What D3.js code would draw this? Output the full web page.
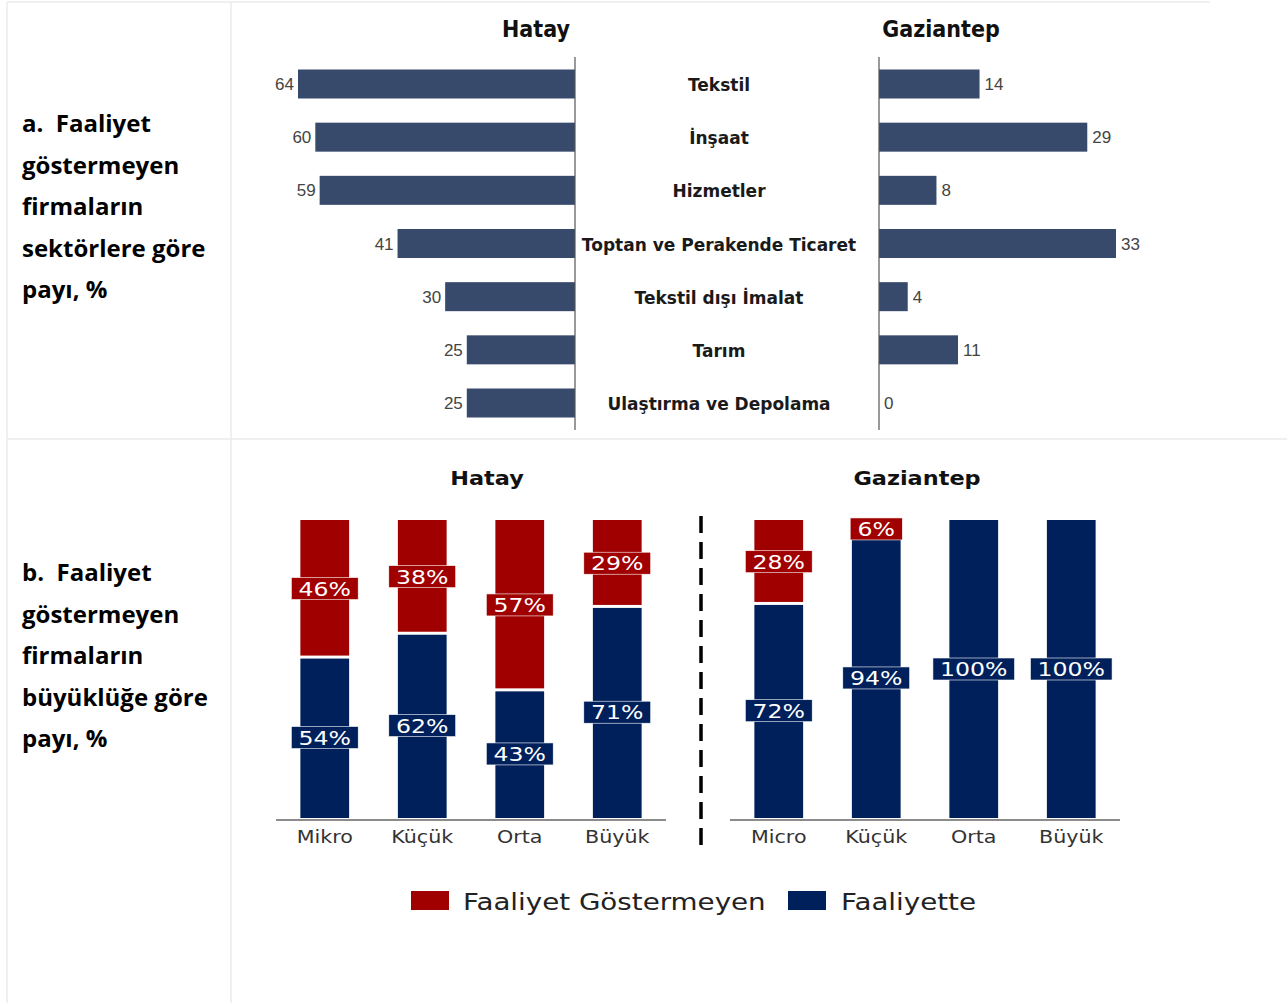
<!DOCTYPE html>
<html>
<head>
<meta charset="utf-8">
<script src="https://cdn.jsdelivr.net/npm/d3@7"></script>
<style>
  html, body { margin: 0; padding: 0; background: #fff; }
  svg { display: block; }
  text { font-variant-ligatures: none; }
</style>
</head>
<body>
<svg id="chart" width="1287" height="1003"></svg>
<script>
// ── data ──
const SECTORS = ["Tekstil", "İnşaat", "Hizmetler", "Toptan ve Perakende Ticaret",
                 "Tekstil dışı İmalat", "Tarım", "Ulaştırma ve Depolama"];
const HATAY_SECTOR = [64, 60, 59, 41, 30, 25, 25];
const GAZI_SECTOR = [14, 29, 8, 33, 4, 11, 0];

const SIZES_HATAY = ["Mikro", "Küçük", "Orta", "Büyük"];
const SIZES_GAZI = ["Micro", "Küçük", "Orta", "Büyük"];
const HATAY_INACTIVE = [46, 38, 57, 29];
const HATAY_ACTIVE = [54, 62, 43, 71];
const GAZI_INACTIVE = [28, 6, 0, 0];
const GAZI_ACTIVE = [72, 94, 100, 100];

const LEGEND = ["Faaliyet Göstermeyen", "Faaliyette"];
const ROW_LABELS = [
  ["a.  Faaliyet", "göstermeyen", "firmaların", "sektörlere göre", "payı, %"],
  ["b.  Faaliyet", "göstermeyen", "firmaların", "büyüklüğe göre", "payı, %"]
];

const BAR_TOP = "#374a6b";
const RED = "#a00000";
const NAVY = "#00205c";
const GRID = "#ebebeb";

const svg = d3.select("#chart");

// ── table frame ──
const frame = svg.append("g").attr("stroke", GRID).attr("stroke-width", 1.5);
frame.append("line").attr("x1", 7).attr("x2", 1210).attr("y1", 2).attr("y2", 2);
frame.append("line").attr("x1", 7).attr("x2", 1287).attr("y1", 439).attr("y2", 439);
frame.append("line").attr("x1", 7).attr("x2", 7).attr("y1", 2).attr("y2", 1003);
frame.append("line").attr("x1", 231).attr("x2", 231).attr("y1", 2).attr("y2", 1003);

// ── row captions ──
ROW_LABELS.forEach((lines, r) => {
  svg.append("g").selectAll("text")
    .data(lines).join("text")
    .attr("x", 22)
    .attr("y", (d, i) => (r === 0 ? 132 : 581) + i * 41.5)
    .attr("font-family", "'Open Sans', Lato, sans-serif")
    .attr("font-weight", 700)
    .attr("font-size", 24)
    .attr("fill", "#000")
    .style("white-space", "pre")
    .text(d => d);
});

// ── part a: mirrored sector bars ──
const yS = d3.scalePoint().domain(SECTORS).range([84, 403]);
const xH = d3.scaleLinear().domain([0, 64]).range([575, 298]);
const xG = d3.scaleLinear().domain([0, 33]).range([879, 1116]);
const barH = 29;
const topFont = "'DejaVu Sans', Verdana, sans-serif";

const ga = svg.append("g");
ga.selectAll("rect.h").data(SECTORS).join("rect")
  .attr("x", (d, i) => xH(HATAY_SECTOR[i]))
  .attr("y", d => yS(d) - barH / 2)
  .attr("width", (d, i) => xH(0) - xH(HATAY_SECTOR[i]))
  .attr("height", barH)
  .attr("fill", BAR_TOP);
ga.selectAll("rect.g").data(SECTORS).join("rect")
  .attr("x", xG(0))
  .attr("y", d => yS(d) - barH / 2)
  .attr("width", (d, i) => xG(GAZI_SECTOR[i]) - xG(0))
  .attr("height", barH)
  .attr("fill", BAR_TOP);

[xH(0), xG(0)].forEach(x => {
  ga.append("line").attr("x1", x).attr("x2", x).attr("y1", 57).attr("y2", 430)
    .attr("stroke", "#555").attr("stroke-width", 1.2);
});

ga.selectAll("text.vh").data(SECTORS).join("text")
  .attr("x", (d, i) => xH(HATAY_SECTOR[i]) - 4)
  .attr("y", d => yS(d) + 6)
  .attr("text-anchor", "end")
  .attr("font-family", "'Liberation Sans', Arial, sans-serif")
  .attr("font-size", 17)
  .attr("fill", "#444")
  .text((d, i) => HATAY_SECTOR[i]);
ga.selectAll("text.vg").data(SECTORS).join("text")
  .attr("x", (d, i) => xG(GAZI_SECTOR[i]) + 5)
  .attr("y", d => yS(d) + 6)
  .attr("font-family", "'Liberation Sans', Arial, sans-serif")
  .attr("font-size", 17)
  .attr("fill", "#444")
  .text((d, i) => GAZI_SECTOR[i]);

ga.selectAll("text.cat").data(SECTORS).join("text")
  .attr("transform", d => `translate(${(xH(0) + xG(0)) / 2 - 8},${yS(d) + 7})`)
  .attr("text-anchor", "middle")
  .attr("font-family", topFont)
  .attr("font-weight", 700)
  .attr("font-size", 17)
  .attr("fill", "#1a1a1a")
  .text(d => d);

[["Hatay", 536], ["Gaziantep", 941]].forEach(([t, x]) => {
  ga.append("text")
    .attr("transform", `translate(${x},37) scale(0.9,1)`)
    .attr("text-anchor", "middle")
    .attr("font-family", topFont)
    .attr("font-weight", 700)
    .attr("font-size", 23)
    .attr("fill", "#111")
    .text(t);
});

// ── part b: stacked size bars ──
const yB = d3.scaleLinear().domain([0, 100]).range([818, 520]);
const botFont = "'DejaVu Sans', Verdana, sans-serif";
const SX = 1.18; // reference text is horizontally stretched

function stackPanel(cats, active, inactive, x0, x1, title, titleX) {
  const x = d3.scaleBand().domain(cats).range([x0, x1]).paddingInner(0.5).paddingOuter(0.25);
  const g = svg.append("g");
  const rows = cats.map((c, i) => ({ c, a: active[i], n: inactive[i] }));

  g.selectAll("rect.a").data(rows).join("rect")
    .attr("x", d => x(d.c))
    .attr("y", d => yB(d.a) + (d.n > 0 ? 1.5 : 0))
    .attr("width", x.bandwidth())
    .attr("height", d => yB(0) - yB(d.a) - (d.n > 0 ? 1.5 : 0))
    .attr("fill", NAVY);
  g.selectAll("rect.n").data(rows.filter(d => d.n > 0)).join("rect")
    .attr("x", d => x(d.c))
    .attr("y", yB(100))
    .attr("width", x.bandwidth())
    .attr("height", d => yB(d.a) - yB(100) - 1.5)
    .attr("fill", RED);

  g.append("line").attr("x1", x0).attr("x2", x1).attr("y1", yB(0) + 2).attr("y2", yB(0) + 2)
    .attr("stroke", "#8c8c8c").attr("stroke-width", 2.2);

  // value boxes
  const labels = [];
  rows.forEach(d => {
    labels.push({ c: d.c, v: d.a, y: (yB(0) + yB(d.a)) / 2, fill: NAVY });
    if (d.n > 0) labels.push({ c: d.c, v: d.n, y: (yB(d.a) + yB(100)) / 2, fill: RED });
  });
  const lab = g.selectAll("g.lab").data(labels).join("g")
    .attr("transform", d => `translate(${x(d.c) + x.bandwidth() / 2},${d.y})`);
  lab.append("rect")
    .attr("x", d => -(String(d.v).length * 12.5 + 25 + 5) * SX / 2 - 1)
    .attr("y", -11)
    .attr("width", d => (String(d.v).length * 12.5 + 25 + 5) * SX + 2)
    .attr("height", 22)
    .attr("fill", d => d.fill)
    .attr("stroke", "#fff").attr("stroke-width", 0.6);
  lab.append("text")
    .attr("transform", `scale(${SX},1)`)
    .attr("y", 7)
    .attr("text-anchor", "middle")
    .attr("font-family", botFont)
    .attr("font-size", 20)
    .attr("fill", "#fff")
    .text(d => d.v + "%");

  g.selectAll("text.cat").data(cats).join("text")
    .attr("transform", d => `translate(${x(d) + x.bandwidth() / 2},${yB(0) + 25}) scale(${SX},1)`)
    .attr("text-anchor", "middle")
    .attr("font-family", botFont)
    .attr("font-size", 17.5)
    .attr("fill", "#333")
    .text(d => d);

  g.append("text")
    .attr("transform", `translate(${titleX},485) scale(${SX},1)`)
    .attr("text-anchor", "middle")
    .attr("font-family", botFont)
    .attr("font-weight", 700)
    .attr("font-size", 19)
    .attr("fill", "#111")
    .text(title);
}
stackPanel(SIZES_HATAY, HATAY_ACTIVE, HATAY_INACTIVE, 276, 666, "Hatay", 487);
stackPanel(SIZES_GAZI, GAZI_ACTIVE, GAZI_INACTIVE, 730, 1120, "Gaziantep", 917);

svg.append("line").attr("x1", 701).attr("x2", 701).attr("y1", 516).attr("y2", 846)
  .attr("stroke", "#000").attr("stroke-width", 3.5).attr("stroke-dasharray", "17,9");

// legend
const leg = svg.append("g");
[[411, 463, RED], [788, 841, NAVY]].forEach(([sx, tx, c], i) => {
  leg.append("rect").attr("x", sx).attr("y", 891).attr("width", 38).attr("height", 19).attr("fill", c);
  leg.append("text")
    .attr("transform", `translate(${tx},910) scale(${SX},1)`)
    .attr("font-family", botFont)
    .attr("font-size", 23.5)
    .attr("fill", "#222")
    .text(LEGEND[i]);
});
</script>
</body>
</html>
